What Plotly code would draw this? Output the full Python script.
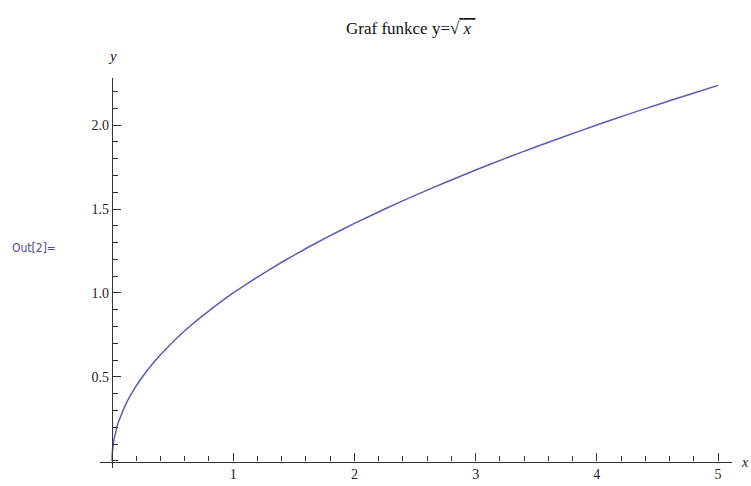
import plotly.graph_objects as go

# values
x_vals = [0, 0.002, 0.005, 0.01, 0.02, 0.03, 0.04, 0.06, 0.08, 0.1, 0.125, 0.15, 0.2, 0.25,
          0.3, 0.35, 0.4, 0.5, 0.6, 0.7, 0.8, 0.9, 1.0, 1.2, 1.4, 1.6, 1.8, 2.0, 2.25, 2.5,
          2.75, 3.0, 3.25, 3.5, 3.75, 4.0, 4.25, 4.5, 4.75, 5.0]
y_vals = [0, 0.045, 0.07, 0.10, 0.14, 0.17, 0.20, 0.245, 0.28, 0.316, 0.354, 0.387, 0.447, 0.50,
          0.548, 0.592, 0.632, 0.707, 0.775, 0.837, 0.894, 0.949, 1.0, 1.095, 1.183, 1.265,
          1.342, 1.414, 1.5, 1.581, 1.658, 1.732, 1.803, 1.871, 1.936, 2.0, 2.062, 2.121,
          2.179, 2.236]
x_ticks = [1, 2, 3, 4, 5]
x_tick_text = ["1", "2", "3", "4", "5"]
y_ticks = [0.5, 1.0, 1.5, 2.0]
y_tick_text = ["0.5", "1.0", "1.5", "2.0"]

W, H = 751, 486
L, R, T, B = 100, 732, 78, 468  # plot area in pixels
pw, ph = R - L, B - T

def px(xp):
    return (xp - L) / pw

def py(yp):
    return (B - yp) / ph

serif = "Liberation Serif"
fig = go.Figure()
fig.add_trace(go.Scatter(x=x_vals, y=y_vals, mode="lines",
                         line=dict(color="#5c5cb4", width=1.5, shape="spline", smoothing=0.3),
                         hoverinfo="skip", showlegend=False))

fig.update_layout(
    width=W, height=H,
    margin=dict(l=L, r=W - R, t=T, b=H - B, pad=0, autoexpand=False),
    paper_bgcolor="white", plot_bgcolor="white",
    xaxis=dict(range=[-0.099, 5.115], anchor="free", position=py(461.5), automargin=False,
               showgrid=False, zeroline=False, showline=True, linecolor="#333", linewidth=1.2,
               tickmode="array", tickvals=x_ticks, ticktext=x_tick_text,
               ticks="inside", ticklen=8, tickwidth=1.2, tickcolor="#333",
               minor=dict(tickmode="linear", tick0=0, dtick=0.2, ticks="inside", ticklen=5,
                          tickwidth=1, tickcolor="#333", showgrid=False),
               tickfont=dict(family=serif, size=14, color="#222")),
    yaxis=dict(range=[-0.042, 2.280], anchor="free", position=px(112), automargin=False,
               showgrid=False, zeroline=False, showline=True, linecolor="#333", linewidth=1.2,
               tickmode="array", tickvals=y_ticks, ticktext=y_tick_text,
               ticks="inside", ticklen=8, tickwidth=1.2, tickcolor="#333",
               minor=dict(tickmode="linear", tick0=0, dtick=0.1, ticks="inside", ticklen=5,
                          tickwidth=1, tickcolor="#333", showgrid=False),
               tickfont=dict(family=serif, size=14, color="#222")),
    annotations=[
        dict(text="Graf funkce y=√<span style='text-decoration:overline'> <i>x</i> </span>",
             xref="paper", yref="paper", x=px(410), y=py(28), xanchor="center", yanchor="middle",
             showarrow=False, font=dict(family=serif, size=17, color="#111")),
        dict(text="<i>y</i>", xref="paper", yref="paper", x=px(112), y=py(56),
             xanchor="center", yanchor="middle", showarrow=False,
             font=dict(family=serif, size=15, color="#111")),
        dict(text="<i>x</i>", xref="paper", yref="paper", x=px(745), y=py(462),
             xanchor="center", yanchor="middle", showarrow=False, borderpad=0,
             font=dict(family=serif, size=14, color="#111")),
        dict(text="Out[2]=", xref="paper", yref="paper", x=px(10), y=py(248),
             xanchor="left", yanchor="middle", showarrow=False,
             font=dict(family="DejaVu Sans Condensed, DejaVu Sans", size=12, color="#4a4aa8")),
    ],
)
fig.write_html("out.html", config={"displayModeBar": False},
               post_script="document.body.style.margin='0';document.body.style.overflow='hidden';")
